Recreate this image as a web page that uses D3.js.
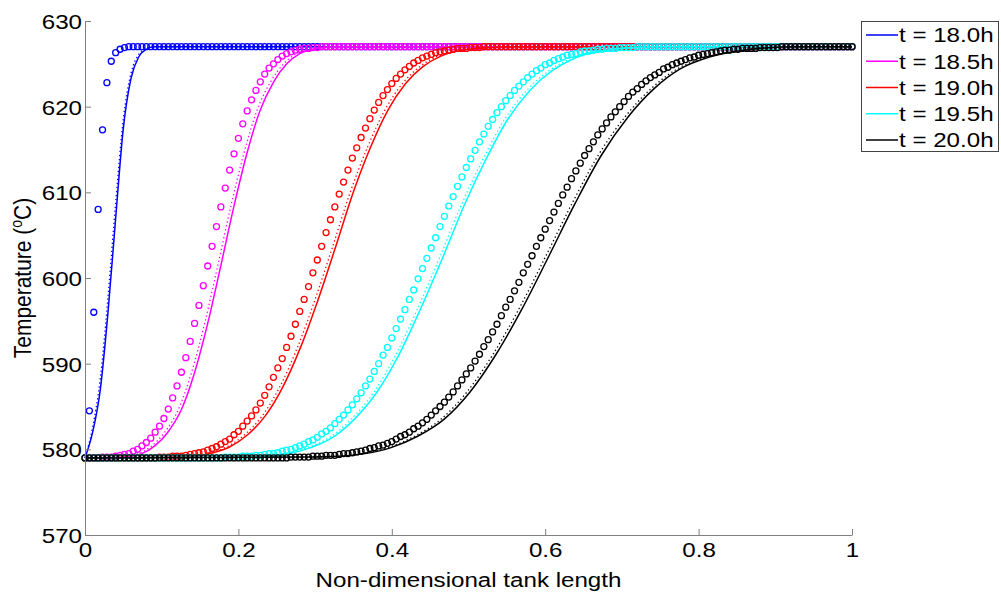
<!DOCTYPE html>
<html>
<head>
<meta charset="utf-8">
<script src="https://cdn.jsdelivr.net/npm/d3@7"></script>
<style>
  body { margin: 0; background: #fff; }
  text { font-family: "Liberation Sans", Arial, sans-serif; }
</style>
</head>
<body>
<div id="chart"></div>
<script>
const labels = ["t = 18.0h", "t = 18.5h", "t = 19.0h", "t = 19.5h", "t = 20.0h"];
const colors = ["#0000ff", "#ff00ff", "#ff0000", "#00ffff", "#000000"];
const xTicks = [0, 0.2, 0.4, 0.6, 0.8, 1];
const yTicks = [570, 580, 590, 600, 610, 620, 630];

// circle markers sit on a regular grid along the tank
const gridX = d3.range(176).map(i => i / 175);

const blueCircles = [579,584.5,596,608,617.3,622.8,625.3,626.3,626.7,626.9,
627,627,627,627,627,627,627,627,627,627,627,627,627,627,627,627,627,627,627,627,
627,627,627,627,627,627,627,627,627,627,627,627,627,627,627,627,627,627,627,627,
627,627,627,627,627,627,627,627,627,627,627,627,627,627,627,627,627,627,627,627,
627,627,627,627,627,627,627,627,627,627,627,627,627,627,627,627,627,627,627,627,
627,627,627,627,627,627,627,627,627,627,627,627,627,627,627,627,627,627,627,627,
627,627,627,627,627,627,627,627,627,627,627,627,627,627,627,627,627,627,627,627,
627,627,627,627,627,627,627,627,627,627,627,627,627,627,627,627,627,627,627,627,
627,627,627,627,627,627,627,627,627,627,627,627,627,627,627,627,627,627,627,627,
627,627,627,627,627,627];

const magentaCircles = [579,579,579,579,
579.1,579.1,579.1,579.2,579.3,579.4,579.5,579.8,580.0,580.4,
580.8,581.3,582.0,582.7,583.6,584.7,586.0,587.4,589.0,590.7,
592.6,594.7,596.8,599.1,601.4,603.7,606.0,608.3,610.5,612.6,
614.5,616.3,618.0,619.5,620.8,621.9,622.9,623.8,624.5,625.0,
625.5,625.9,626.2,626.4,626.6,626.7,626.8,626.8,626.9,626.9,
627,627,627,627,627,627,627,627,627,627,627,627,627,627,627,627,627,627,627,627,
627,627,627,627,627,627,627,627,627,627,627,627,627,627,627,627,627,627,627,627,
627,627,627,627,627,627,627,627,627,627,627,627,627,627,627,627,627,627,627,627,
627,627,627,627,627,627,627,627,627,627,627,627,627,627,627,627,627,627,627,627,
627,627,627,627,627,627,627,627,627,627,627,627,627,627,627,627,627,627,627,627,
627,627,627,627,627,627,627,627,627,627,627,627,627,627,627,627,627,627,627,627,
627,627];

const redCircles = [579,579,579,579,579,579,579,579,579,579,579,579,579,579,579,579,579,
579.1,579.1,579.1,579.2,579.2,579.2,579.3,579.4,579.5,579.6,
579.7,579.9,580.1,580.3,580.6,580.9,581.2,581.7,582.1,582.7,
583.3,583.9,584.6,585.4,586.3,587.3,588.4,589.5,590.6,591.9,
593.2,594.6,596.1,597.5,599.0,600.6,602.1,603.7,605.3,606.8,
608.3,609.8,611.2,612.6,614.0,615.2,616.4,617.5,618.6,619.6,
620.5,621.3,622.0,622.7,623.3,623.8,624.3,624.7,625.1,625.4,
625.7,625.9,626.1,626.3,626.4,626.5,626.6,626.7,626.8,626.8,
626.8,626.9,626.9,626.9,
627,627,627,627,627,627,627,627,627,627,627,627,627,627,627,627,627,627,627,627,
627,627,627,627,627,627,627,627,627,627,627,627,627,627,627,627,627,627,627,627,
627,627,627,627,627,627,627,627,627,627,627,627,627,627,627,627,627,627,627,627,
627,627,627,627,627,627,627,627,627,627,627,627,627,627,627,627,627,627,627,627,
627,627,627,627,627];

const cyanCircles = [579,579,579,579,579,579,579,579,579,579,579,579,579,579,579,579,
579,579,579,579,579,579,579,579,579,579,579,579,579,579,579,579,
579.1,579.1,579.1,579.1,579.2,579.2,579.2,579.3,579.3,579.4,
579.5,579.5,579.6,579.8,579.9,580.0,580.2,580.4,580.6,580.9,
581.1,581.4,581.8,582.1,582.5,583.0,583.5,584.0,584.6,585.2,
585.9,586.6,587.4,588.2,589.1,590.0,591.0,591.9,593.0,594.1,
595.2,596.3,597.5,598.6,599.9,601.1,602.3,603.5,604.7,606.0,
607.2,608.4,609.5,610.7,611.8,612.9,613.9,614.9,615.9,616.8,
617.7,618.5,619.3,620.0,620.7,621.3,621.9,622.4,622.9,623.4,
623.8,624.2,624.5,624.9,625.1,625.4,625.6,625.8,626.0,626.1,
626.2,626.4,626.5,626.5,626.6,626.7,626.7,626.8,626.8,626.8,
626.9,626.9,626.9,626.9,
627,627,627,627,627,627,627,627,627,627,627,627,627,627,627,627,627,627,627,627,
627,627,627,627,627,627,627,627,627,627,627,627,627,627,627,627,627,627,627,627,
627,627,627,627,627,627,627,627,627,627];

const blackCircles = [579,579,579,579,579,579,579,579,579,579,579,579,579,579,579,579,
579,579,579,579,579,579,579,579,579,579,579,579,579,579,579,579,
579,579,579,579,579,579,579,579,579,579,579,579,579,579,579,
579.1,579.1,579.1,579.1,579.1,579.2,579.2,579.2,579.3,579.3,
579.3,579.4,579.5,579.5,579.6,579.7,579.8,579.9,580.1,580.2,
580.4,580.5,580.7,580.9,581.2,581.5,581.7,582.0,582.4,582.7,
583.1,583.5,584.0,584.5,585.0,585.5,586.1,586.7,587.4,588.1,
588.8,589.5,590.3,591.1,592.0,592.8,593.7,594.6,595.6,596.6,
597.5,598.5,599.5,600.6,601.6,602.6,603.7,604.7,605.7,606.7,
607.7,608.7,609.7,610.6,611.6,612.5,613.4,614.3,615.1,615.9,
616.7,617.4,618.1,618.8,619.4,620.0,620.6,621.2,621.7,622.1,
622.6,623.0,623.4,623.7,624.0,624.4,624.6,624.9,625.1,625.3,
625.5,625.7,625.8,626.0,626.1,626.2,626.3,626.4,626.5,626.6,
626.6,626.7,626.7,626.8,626.8,626.8,626.8,626.9,626.9,626.9,
626.9,626.9,
627,627,627,627,627,627,627,627,627,627,627,627,627,627,627,627,627];

// solid and dotted curves: [x, temperature] knots
const blueSolid = [[0,579],[0.01,582],[0.02,587],[0.03,596],[0.04,607],[0.05,617.5],[0.06,623.3],[0.07,625.8],[0.08,626.7],[0.09,627],[1,627]];
const blueDotted = [[0,579],[0.01,582.6],[0.02,588.3],[0.03,597.8],[0.04,608.8],[0.05,618.6],[0.06,623.9],[0.07,626.1],[0.08,626.8],[0.09,627],[1,627]];

const magentaSolid = [[0,579],[0.051,579.1],[0.074,579.5],[0.091,580.4],[0.108,582.0],[0.126,584.7],[0.143,589.0],[0.160,594.7],[0.177,601.4],[0.194,608.3],[0.211,614.5],[0.228,619.5],[0.246,622.9],[0.263,625.0],[0.280,626.2],[0.303,626.8],[0.326,627],[1,627]];
const magentaDotted = [[0,579],[0.047,579.1],[0.070,579.5],[0.087,580.4],[0.104,582.0],[0.122,584.7],[0.139,589.0],[0.156,594.7],[0.173,601.4],[0.190,608.3],[0.207,614.5],[0.224,619.5],[0.242,622.9],[0.259,625.0],[0.276,626.2],[0.299,626.8],[0.322,627],[1,627]];

const redSolid = [[0,579],[0.115,579.1],[0.144,579.2],[0.167,579.6],[0.189,580.3],[0.212,581.7],[0.235,583.9],[0.258,587.3],[0.281,591.9],[0.304,597.5],[0.327,603.7],[0.349,609.8],[0.372,615.2],[0.395,619.6],[0.418,622.7],[0.441,624.7],[0.464,625.9],[0.492,626.6],[0.532,626.9],[0.567,627],[1,627]];
const redDotted = [[0,579],[0.111,579.1],[0.140,579.2],[0.163,579.6],[0.185,580.3],[0.208,581.7],[0.231,583.9],[0.254,587.3],[0.277,591.9],[0.300,597.5],[0.323,603.7],[0.345,609.8],[0.368,615.2],[0.391,619.6],[0.414,622.7],[0.437,624.7],[0.460,625.9],[0.488,626.6],[0.528,626.9],[0.563,627],[1,627]];

const cyanSolid = [[0,579],[0.203,579.1],[0.237,579.2],[0.266,579.5],[0.294,580.2],[0.323,581.4],[0.351,583.5],[0.380,586.6],[0.409,591.0],[0.437,596.3],[0.466,602.3],[0.494,608.4],[0.523,613.9],[0.551,618.5],[0.580,621.9],[0.609,624.2],[0.637,625.6],[0.666,626.4],[0.700,626.8],[0.740,627],[1,627]];
const cyanDotted = [[0,579],[0.199,579.1],[0.233,579.2],[0.262,579.5],[0.290,580.2],[0.319,581.4],[0.347,583.5],[0.376,586.6],[0.405,591.0],[0.433,596.3],[0.462,602.3],[0.490,608.4],[0.519,613.9],[0.547,618.5],[0.576,621.9],[0.605,624.2],[0.633,625.6],[0.662,626.4],[0.696,626.8],[0.736,627],[1,627]];

const blackSolid = [[0,579],[0.291,579.1],[0.331,579.2],[0.365,579.5],[0.399,580.2],[0.433,581.5],[0.468,583.5],[0.502,586.7],[0.536,591.1],[0.571,596.6],[0.605,602.6],[0.639,608.7],[0.673,614.3],[0.708,618.8],[0.742,622.1],[0.776,624.4],[0.811,625.7],[0.845,626.4],[0.879,626.8],[0.931,627],[1,627]];
const blackDotted = [[0,579],[0.287,579.1],[0.327,579.2],[0.361,579.5],[0.395,580.2],[0.429,581.5],[0.464,583.5],[0.498,586.7],[0.532,591.1],[0.567,596.6],[0.601,602.6],[0.635,608.7],[0.669,614.3],[0.704,618.8],[0.738,622.1],[0.772,624.4],[0.807,625.7],[0.841,626.4],[0.875,626.8],[0.927,627],[1,627]];

const series = [
  { circles: blueCircles, solid: blueSolid, dotted: blueDotted },
  { circles: magentaCircles, solid: magentaSolid, dotted: magentaDotted },
  { circles: redCircles, solid: redSolid, dotted: redDotted },
  { circles: cyanCircles, solid: cyanSolid, dotted: cyanDotted },
  { circles: blackCircles, solid: blackSolid, dotted: blackDotted }
];

const w = 1001;
const h = 593;
const pLeft = 85, pRight = 852, pTop = 21, pBottom = 535;
const sx = 1.15; // text looks stretched sideways in the picture

const x = d3.scaleLinear().domain([0, 1]).range([pLeft, pRight]);
const y = d3.scaleLinear().domain([570, 630]).range([pBottom, pTop]);

const svg = d3.select("#chart")
              .append("svg")
              .attr("width", w)
              .attr("height", h);

svg.append("rect").attr("width", w).attr("height", h).attr("fill", "#fff");

const line = d3.line()
               .x(d => x(d[0]))
               .y(d => y(d[1]))
               .curve(d3.curveMonotoneX);

series.forEach((s, k) => {
  const g = svg.append("g");
  g.selectAll("circle")
   .data(s.circles)
   .enter()
   .append("circle")
   .attr("cx", (d, i) => x(gridX[i]))
   .attr("cy", d => y(d))
   .attr("r", 3)
   .attr("fill", "none")
   .attr("stroke", colors[k])
   .attr("stroke-width", 1.3);

  g.append("path")
   .attr("d", line(s.solid))
   .attr("fill", "none")
   .attr("stroke", colors[k])
   .attr("stroke-width", 1.5);

  g.append("path")
   .attr("d", line(s.dotted))
   .attr("fill", "none")
   .attr("stroke", colors[k])
   .attr("stroke-width", 1.3)
   .attr("stroke-dasharray", "1.3,2.7");
});

// axes: left and bottom only, ticks pointing inward
const xAxis = svg.append("g")
   .attr("transform", `translate(0,${pBottom})`)
   .call(d3.axisBottom(x).tickValues(xTicks).tickFormat(d3.format("")).tickSizeInner(-6).tickSizeOuter(0).tickPadding(0));

const yAxis = svg.append("g")
   .attr("transform", `translate(${pLeft},0)`)
   .call(d3.axisLeft(y).tickValues(yTicks).tickSizeInner(-6).tickSizeOuter(0).tickPadding(3));

[xAxis, yAxis].forEach(a => {
  a.select(".domain").attr("stroke", "#808080");
  a.selectAll(".tick line").attr("stroke", "#808080");
  a.selectAll(".tick text")
   .attr("font-size", 21)
   .attr("font-family", "Liberation Sans, Arial, sans-serif")
   .attr("fill", "#000");
});

xAxis.selectAll(".tick text")
     .attr("dy", null)
     .attr("y", null)
     .attr("transform", `translate(0,22) scale(${sx},1)`);

yAxis.selectAll(".tick text")
     .attr("x", null)
     .attr("dy", "0.35em")
     .attr("transform", `translate(-3,0) scale(${sx},1)`);

svg.append("text")
   .attr("transform", `translate(${(pLeft + pRight) / 2},587) scale(${sx},1)`)
   .attr("text-anchor", "middle")
   .attr("font-size", 21)
   .text("Non-dimensional tank length");

const yl = svg.append("text")
   .attr("transform", `translate(31,${(pTop + pBottom) / 2}) scale(${sx},1) rotate(-90)`)
   .attr("text-anchor", "middle")
   .attr("font-size", 21);
yl.append("tspan").text("Temperature (");
yl.append("tspan").attr("font-size", 14).attr("dy", -8).text("o");
yl.append("tspan").attr("dy", 8).text("C)");

// legend
const lg = svg.append("g");
lg.append("rect")
  .attr("x", 861.5).attr("y", 21.5)
  .attr("width", 137).attr("height", 130)
  .attr("fill", "#fff")
  .attr("stroke", "#444");

const rowY = d3.scaleLinear().domain([0, 4]).range([35, 140]);

lg.selectAll("line.key")
  .data(labels)
  .enter()
  .append("line")
  .attr("x1", 866).attr("x2", 898)
  .attr("y1", (d, i) => rowY(i)).attr("y2", (d, i) => rowY(i))
  .attr("stroke", (d, i) => colors[i])
  .attr("stroke-width", 1.5);

lg.selectAll("text")
  .data(labels)
  .enter()
  .append("text")
  .attr("transform", (d, i) => `translate(899,${rowY(i)}) scale(${sx},1)`)
  .attr("dy", "0.35em")
  .attr("font-size", 21)
  .text(d => d);
</script>
</body>
</html>
